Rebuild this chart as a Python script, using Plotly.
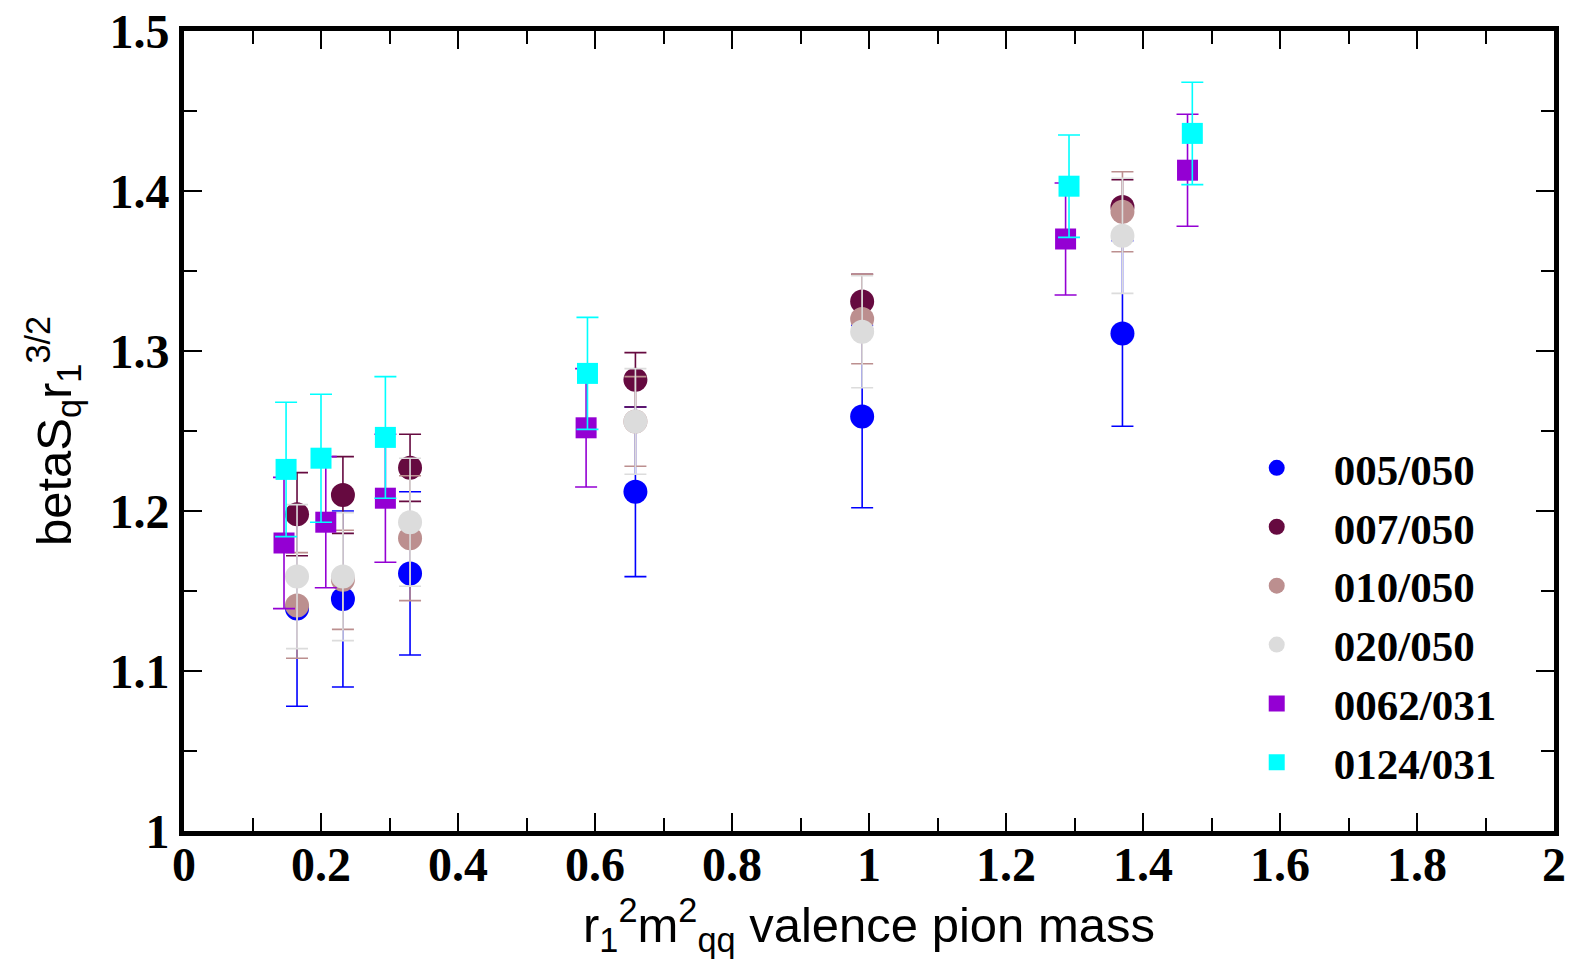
import plotly.graph_objects as go

# circle-series x positions (shared by the four "/050" ensembles)
x_circ = [0.165, 0.232, 0.330, 0.659, 0.990, 1.370]

y_005 = [1.139, 1.145, 1.161, 1.212, 1.259, 1.311]
e_005 = [0.061, 0.055, 0.051, 0.053, 0.057, 0.058]

y_007 = [1.198, 1.210, 1.227, 1.282, 1.331, 1.390]
e_007 = [0.026, 0.024, 0.021, 0.017, 0.017, 0.017]

y_010 = [1.141, 1.157, 1.183, 1.256, 1.320, 1.387]
e_010 = [0.033, 0.031, 0.039, 0.028, 0.028, 0.025]

y_020 = [1.159, 1.159, 1.193, 1.256, 1.312, 1.372]
e_020 = [0.045, 0.040, 0.040, 0.033, 0.035, 0.036]

x_0062 = [0.146, 0.207, 0.294, 0.587, 1.287, 1.465]
y_0062 = [1.180, 1.193, 1.208, 1.252, 1.370, 1.413]
e_0062 = [0.041, 0.041, 0.040, 0.037, 0.035, 0.035]

x_0124 = [0.149, 0.200, 0.294, 0.589, 1.292, 1.472]
y_0124 = [1.226, 1.233, 1.246, 1.286, 1.403, 1.436]
e_0124 = [0.042, 0.040, 0.038, 0.035, 0.032, 0.032]

series = [
    ("005/050", x_circ, y_005, e_005, "#0000ff", "circle", 24),
    ("007/050", x_circ, y_007, e_007, "#660a40", "circle", 24),
    ("010/050", x_circ, y_010, e_010, "#bc8f8f", "circle", 24),
    ("020/050", x_circ, y_020, e_020, "#dcdcdc", "circle", 24),
    ("0062/031", x_0062, y_0062, e_0062, "#9400d3", "square", 21),
    ("0124/031", x_0124, y_0124, e_0124, "#00ffff", "square", 21),
]

fig = go.Figure()
for name, xs, ys, es, col, sym, sz in series:
    fig.add_trace(go.Scatter(
        x=xs, y=ys, name="<b>" + name + "</b>", mode="markers",
        marker=dict(color=col, symbol=sym, size=sz, line=dict(width=0)),
        error_y=dict(type="data", array=es, visible=True, color=col,
                     thickness=1.6, width=11),
    ))

tickfont = dict(family="Liberation Serif, Times New Roman, serif", size=48, color="black")
titlefont = dict(family="Liberation Sans, Arial, sans-serif", size=49, color="black")

xt = [0, 0.2, 0.4, 0.6, 0.8, 1, 1.2, 1.4, 1.6, 1.8, 2]
xtl = ["0", "0.2", "0.4", "0.6", "0.8", "1", "1.2", "1.4", "1.6", "1.8", "2"]
yt = [1.0, 1.1, 1.2, 1.3, 1.4, 1.5]
ytl = ["1", "1.1", "1.2", "1.3", "1.4", "1.5"]

fig.update_layout(
    width=1577, height=971,
    margin=dict(l=184, r=23, t=31, b=140, autoexpand=False),
    plot_bgcolor="white", paper_bgcolor="white",
    showlegend=True,
    legend=dict(x=0.756, y=0.497, xanchor="left", yanchor="top",
                font=dict(family="Liberation Serif, Times New Roman, serif", size=43, color="black"),
                bgcolor="rgba(0,0,0,0)", itemwidth=104, tracegroupgap=0),
    xaxis=dict(range=[0, 2], tickvals=xt, ticktext=["<b>%s</b>" % t for t in xtl],
               ticks="inside", ticklen=18, tickwidth=1.5, tickcolor="black",
               minor=dict(dtick=0.1, ticks="inside", ticklen=13, tickwidth=1.5, tickcolor="black"),
               showline=True, linewidth=5, linecolor="black", mirror="allticks",
               showgrid=False, zeroline=False, tickfont=tickfont, ticklabelstandoff=-13,
               title=dict(text="r<sub>1</sub><sup>2</sup>m<sup>2</sup><sub>qq</sub> valence pion mass",
                          font=titlefont, standoff=14)),
    yaxis=dict(range=[1.0, 1.5], tickvals=yt, ticktext=["<b>%s</b>" % t for t in ytl],
               ticks="inside", ticklen=18, tickwidth=1.5, tickcolor="black",
               minor=dict(dtick=0.05, ticks="inside", ticklen=13, tickwidth=1.5, tickcolor="black"),
               showline=True, linewidth=5, linecolor="black", mirror="allticks",
               showgrid=False, zeroline=False, tickfont=tickfont,
               title=dict(text="betaS<sub>q</sub>r<sub>1</sub><sup>3/2</sup>",
                          font=titlefont, standoff=24)),
)

fig.write_html("out.html")
